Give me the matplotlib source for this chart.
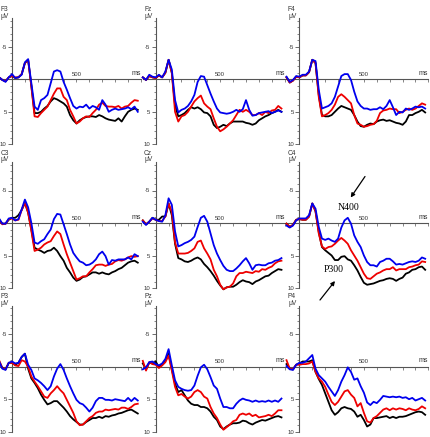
import numpy as np
import matplotlib.pyplot as plt

plt.rcParams['font.family'] = ['Liberation Sans', 'DejaVu Sans']

# sample times (ms), -100 .. 975 every 25 ms
times = np.arange(-100, 1000, 25)

# ---- amplitudes (uV) ----
f3_blue = [-0.3, 0.1, 0.4, -0.3, -0.8, -0.2, -0.3, -0.7, -2.6, -3.1, 0.6, 4.2, 4.7, 3.2, 2.9, 2.4, 0.6, -1.2, -1.4, -1.2, 0.4, 1.6, 2.9, 4.1, 4.5, 4.2, 4.3, 3.9, 4.5, 4.1, 4.3, 4.7, 3.2, 3.9, 5.0, 4.7, 4.5, 4.7, 4.6, 4.5, 4.3, 4.6, 4.2, 5.0]
f3_red = [-0.3, 0.1, 0.3, -0.3, -0.5, -0.3, -0.3, -0.8, -2.5, -3.0, 1.1, 5.7, 5.8, 5.2, 4.7, 4.2, 3.2, 2.2, 1.4, 1.4, 2.7, 3.2, 4.7, 5.7, 6.8, 6.5, 6.0, 5.7, 5.8, 5.2, 4.7, 3.9, 3.6, 4.1, 4.2, 4.2, 4.3, 4.1, 4.5, 4.2, 4.1, 3.6, 3.2, 3.3]
f3_black = [-0.3, 0.1, 0.3, -0.3, -0.5, -0.2, -0.3, -0.8, -2.5, -3.0, 1.0, 5.2, 5.2, 5.0, 4.5, 4.1, 3.4, 2.9, 3.1, 3.4, 3.7, 4.2, 5.5, 6.3, 6.8, 6.3, 6.0, 5.8, 5.7, 5.7, 5.8, 5.5, 5.7, 6.0, 6.2, 6.3, 6.4, 6.0, 6.5, 5.7, 5.0, 4.7, 4.5, 4.7]

fz_blue = [-0.3, 0.1, -0.7, -0.4, -0.3, -0.7, -0.3, -1.2, -3.0, -1.5, 3.2, 5.1, 4.7, 4.5, 4.1, 3.4, 2.4, 0.4, -0.5, -0.4, 0.9, 2.2, 3.4, 4.5, 5.1, 5.2, 5.3, 5.2, 5.0, 4.7, 5.0, 4.6, 3.2, 4.7, 5.6, 5.5, 5.2, 5.1, 5.0, 4.9, 5.2, 5.0, 4.8, 5.0]
fz_red = [-0.3, 0.1, -0.5, -0.3, -0.2, -0.6, -0.3, -1.0, -3.0, -1.0, 5.0, 6.5, 5.7, 5.5, 5.0, 4.2, 3.4, 2.9, 2.5, 3.7, 4.2, 4.6, 6.0, 7.3, 8.0, 7.7, 7.3, 6.8, 6.3, 5.5, 4.7, 5.0, 4.7, 5.0, 5.5, 5.5, 5.2, 5.5, 5.0, 5.2, 4.8, 4.7, 4.1, 4.5]
fz_black = [-0.3, 0.1, -0.5, -0.3, -0.2, -0.6, -0.3, -1.0, -3.0, -1.0, 4.0, 5.7, 5.5, 5.2, 4.7, 4.3, 4.5, 4.3, 4.6, 5.1, 5.2, 5.7, 7.0, 7.5, 7.3, 7.0, 7.2, 6.8, 6.5, 6.5, 6.5, 6.5, 6.7, 6.8, 7.0, 6.8, 6.3, 6.0, 5.7, 5.5, 5.2, 5.0, 4.7, 5.0]

f4_blue = [-0.4, 0.4, 0.1, -0.5, -0.4, -0.7, -0.7, -1.2, -3.0, -2.8, 1.6, 4.5, 4.3, 4.1, 3.7, 2.7, 1.1, -0.5, -0.8, -0.8, 0.1, 1.9, 3.4, 4.1, 4.5, 4.5, 4.7, 4.6, 4.6, 4.3, 4.6, 4.1, 3.2, 4.3, 5.5, 5.0, 5.1, 4.5, 4.7, 4.5, 4.2, 4.3, 4.2, 4.5]
f4_red = [-0.3, 0.5, 0.2, -0.4, -0.3, -0.6, -0.6, -1.1, -3.0, -2.5, 2.7, 5.7, 5.5, 5.2, 4.7, 3.9, 2.7, 2.3, 2.7, 3.2, 3.7, 5.5, 6.8, 7.0, 7.3, 7.2, 7.0, 6.9, 6.4, 5.2, 4.8, 4.7, 4.5, 4.6, 4.6, 5.2, 5.0, 4.7, 4.5, 4.7, 4.5, 4.1, 3.7, 3.9]
f4_black = [-0.3, 0.5, 0.2, -0.4, -0.3, -0.6, -0.6, -1.1, -3.0, -2.5, 2.4, 5.5, 5.7, 5.7, 5.5, 5.0, 4.5, 4.1, 4.3, 4.5, 4.7, 5.5, 6.5, 7.2, 7.3, 7.0, 6.8, 6.9, 6.5, 6.3, 6.2, 6.4, 6.3, 6.5, 6.7, 6.8, 7.0, 6.5, 5.5, 5.5, 5.2, 5.0, 4.7, 5.1]

c3_blue = [-0.7, 0.1, 0.1, -0.7, -0.8, -0.4, -0.6, -2.1, -3.6, -2.4, 0.0, 3.0, 3.2, 2.8, 2.5, 1.7, 1.0, -0.6, -1.4, -1.3, 0.2, 1.7, 3.3, 4.6, 5.3, 5.9, 6.1, 6.5, 6.4, 6.1, 5.6, 4.8, 4.4, 5.1, 6.4, 5.7, 5.8, 5.6, 5.6, 5.6, 5.3, 5.6, 4.8, 5.1]
c3_red = [-0.5, 0.2, 0.1, -0.6, -0.7, -0.4, -0.5, -2.0, -3.1, -1.6, 1.2, 4.3, 4.1, 3.8, 3.3, 3.0, 2.8, 2.0, 1.3, 1.7, 3.3, 4.8, 6.1, 7.4, 8.7, 8.5, 8.2, 8.2, 7.6, 7.1, 6.5, 6.4, 6.4, 6.6, 6.4, 6.3, 5.9, 5.7, 5.8, 5.6, 5.3, 5.1, 5.2, 5.1]
c3_black = [-0.5, 0.1, 0.1, -0.5, -0.8, -0.8, -1.2, -2.0, -3.1, -1.6, 1.0, 3.8, 4.1, 4.3, 4.6, 4.3, 4.2, 3.8, 4.3, 5.1, 5.8, 6.9, 7.6, 8.4, 8.9, 8.7, 8.3, 8.2, 7.9, 7.6, 7.6, 7.8, 7.6, 7.8, 7.9, 7.6, 7.4, 7.1, 6.9, 6.5, 6.1, 5.9, 5.8, 6.1]

cz_blue = [-0.2, 0.3, -0.2, -0.8, -0.5, -0.3, -0.2, -1.2, -3.8, -2.8, 1.3, 3.6, 3.4, 3.1, 2.9, 2.6, 2.1, 0.6, -0.8, -1.1, -0.2, 1.6, 3.4, 4.7, 5.7, 6.6, 7.2, 7.4, 7.4, 7.0, 6.5, 5.9, 5.4, 6.2, 7.2, 6.5, 6.4, 6.5, 6.5, 6.2, 6.1, 5.8, 5.7, 5.4]
cz_red = [-0.4, 0.2, -0.2, -0.7, -0.5, -0.3, -0.3, -1.0, -3.0, -1.7, 3.0, 4.7, 4.7, 4.7, 4.6, 4.3, 3.9, 2.9, 2.7, 3.9, 4.7, 5.6, 7.2, 8.2, 9.5, 10.2, 9.9, 9.8, 9.3, 8.2, 7.7, 7.7, 7.5, 7.6, 7.7, 7.4, 7.5, 7.1, 7.2, 6.9, 6.7, 6.2, 5.9, 5.8]
cz_black = [-0.4, 0.2, -0.2, -0.8, -0.5, -0.5, -1.0, -1.0, -3.0, -1.2, 3.2, 5.4, 5.6, 5.9, 6.0, 5.8, 5.5, 5.3, 5.6, 6.3, 6.8, 7.4, 8.1, 8.9, 9.6, 10.2, 9.9, 9.8, 9.8, 9.5, 9.1, 8.8, 9.0, 9.1, 9.4, 9.0, 8.8, 8.5, 8.2, 8.1, 7.7, 7.4, 7.1, 7.2]

c4_blue = [0.4, 0.7, 0.4, -0.4, -0.7, -0.7, -0.7, -1.2, -3.0, -2.2, 0.6, 2.4, 2.6, 2.4, 2.7, 2.9, 2.4, 0.7, -0.4, -0.8, 0.1, 1.9, 2.9, 3.7, 5.0, 6.0, 6.5, 6.5, 6.7, 6.0, 5.8, 5.5, 5.5, 5.9, 6.4, 6.3, 6.4, 6.2, 6.0, 5.9, 6.0, 5.8, 5.3, 5.5]
c4_red = [0.1, 0.6, 0.3, -0.5, -0.6, -0.5, -0.5, -1.0, -3.0, -1.8, 1.6, 3.6, 4.0, 3.7, 3.6, 3.2, 2.7, 2.3, 2.7, 3.2, 4.2, 5.0, 5.8, 6.8, 7.8, 8.5, 8.6, 8.2, 7.8, 7.6, 7.3, 7.1, 7.1, 6.8, 7.3, 7.1, 7.1, 7.1, 6.8, 6.7, 6.5, 6.4, 5.9, 6.0]
c4_black = [0.1, 0.6, 0.3, -0.5, -0.6, -0.5, -0.5, -1.0, -3.0, -1.8, 1.4, 3.7, 4.2, 4.6, 5.0, 5.7, 5.7, 5.2, 5.1, 5.6, 5.8, 6.5, 7.3, 8.3, 9.2, 9.5, 9.4, 9.3, 9.1, 8.9, 8.8, 8.6, 8.5, 8.6, 8.9, 8.6, 8.4, 7.8, 7.6, 7.2, 7.1, 6.8, 6.7, 7.2]

p3_blue = [-0.8, 0.3, 0.5, -0.6, -0.8, -0.5, -0.6, -1.5, -2.0, -0.3, 0.5, 1.8, 2.1, 2.5, 3.0, 3.6, 3.0, 1.5, 0.3, -0.4, 0.5, 1.8, 3.0, 4.1, 5.1, 5.6, 5.8, 6.3, 6.9, 6.3, 5.3, 4.8, 4.8, 5.1, 5.1, 5.2, 5.0, 5.1, 5.2, 5.3, 4.8, 5.3, 4.8, 5.2]
p3_red = [-1.0, 0.2, 0.4, -0.6, -0.6, -0.2, -0.1, -1.0, -0.8, 0.0, 1.5, 2.3, 3.0, 3.8, 4.6, 4.8, 4.1, 3.6, 3.0, 3.6, 4.1, 5.1, 6.1, 7.1, 8.4, 9.0, 8.9, 8.4, 7.9, 7.6, 7.1, 6.9, 6.9, 6.6, 6.7, 6.6, 6.5, 6.6, 6.3, 6.3, 6.5, 6.2, 5.8, 5.7]
p3_black = [-0.8, 0.2, 0.4, -0.6, -0.6, -0.3, -0.6, -1.5, -2.0, 0.3, 1.8, 2.5, 3.3, 4.3, 5.1, 5.8, 5.6, 5.3, 5.3, 5.8, 6.3, 6.9, 7.6, 8.1, 8.5, 8.9, 8.9, 8.5, 8.2, 7.9, 7.9, 7.7, 7.9, 7.6, 7.7, 7.5, 7.4, 7.2, 7.1, 6.9, 6.7, 6.6, 6.9, 7.2]

pz_blue = [0.4, 0.1, -0.7, -0.8, -0.4, -0.2, -0.5, -1.2, -2.7, -0.2, 2.1, 3.1, 3.4, 3.6, 3.7, 3.6, 2.9, 1.4, 0.1, -0.3, 0.4, 1.6, 2.9, 3.4, 4.9, 6.2, 6.2, 6.4, 6.4, 5.7, 5.2, 4.9, 5.1, 5.2, 5.4, 5.2, 5.4, 5.3, 5.4, 5.2, 5.4, 5.2, 5.4, 4.9]
pz_red = [-0.9, 0.6, -0.7, -0.4, -0.3, 0.2, -0.2, -0.7, -1.7, 0.6, 3.1, 4.4, 4.2, 4.6, 4.9, 4.6, 3.9, 3.6, 3.9, 4.6, 4.9, 6.2, 7.2, 7.9, 8.9, 9.7, 9.3, 8.9, 8.4, 8.2, 7.4, 7.2, 7.4, 7.2, 7.6, 7.4, 7.8, 7.7, 7.6, 7.4, 7.6, 7.2, 6.7, 6.7]
pz_black = [-0.5, 0.4, -0.6, -0.5, -0.8, 0.1, -0.3, -1.0, -2.0, 0.4, 2.6, 3.9, 3.6, 4.4, 5.2, 5.7, 5.9, 5.9, 6.2, 6.2, 6.4, 6.9, 7.7, 8.2, 9.2, 9.6, 9.2, 8.9, 8.7, 8.7, 8.6, 8.3, 8.4, 8.7, 8.9, 8.6, 8.4, 8.2, 8.3, 8.1, 7.9, 7.7, 7.6, 7.8]

p4_blue = [-0.1, 0.4, 0.5, -0.3, -0.6, -0.6, -0.8, -1.3, -1.8, 0.3, 1.3, 1.8, 2.3, 3.1, 3.8, 4.5, 3.6, 2.3, 1.3, 0.1, 0.8, 2.0, 1.8, 3.0, 4.0, 5.5, 5.9, 5.4, 5.6, 5.1, 4.5, 4.6, 4.7, 4.6, 4.7, 4.6, 4.8, 4.7, 5.0, 4.8, 5.2, 5.0, 4.8, 5.2]
p4_red = [-1.0, 0.3, 0.4, -0.3, -0.3, -0.4, -0.4, -0.5, -0.8, 0.8, 1.8, 2.3, 3.1, 4.3, 5.4, 5.9, 5.4, 4.6, 3.8, 3.6, 4.3, 4.8, 6.1, 5.6, 7.1, 8.4, 8.6, 7.9, 7.6, 7.1, 6.6, 6.4, 6.7, 6.4, 6.6, 6.4, 6.5, 6.7, 6.4, 6.6, 6.7, 6.5, 6.1, 6.4]
p4_black = [-0.4, 0.3, 0.4, -0.3, -0.5, -0.8, -0.8, -0.8, -1.0, 0.8, 1.9, 2.8, 4.1, 5.4, 6.7, 7.4, 7.0, 6.4, 6.2, 6.4, 6.5, 6.9, 7.7, 7.4, 8.2, 9.2, 8.9, 7.9, 7.9, 7.8, 7.7, 7.6, 7.9, 7.7, 7.9, 7.7, 7.7, 7.6, 7.4, 7.2, 7.0, 6.9, 7.0, 7.4]

electrodes = ['F3', 'Fz', 'F4', 'C3', 'Cz', 'C4', 'P3', 'Pz', 'P4']
panels = [(f3_black, f3_red, f3_blue), (fz_black, fz_red, fz_blue), (f4_black, f4_red, f4_blue),
          (c3_black, c3_red, c3_blue), (cz_black, cz_red, cz_blue), (c4_black, c4_red, c4_blue),
          (p3_black, p3_red, p3_blue), (pz_black, pz_red, pz_blue), (p4_black, p4_red, p4_blue)]
colors = ['black', '#ee0000', '#0000ee']

W, H = 431, 437
fig = plt.figure(figsize=(W / 100, H / 100), dpi=100)

sx = 0.129   # px per ms
sy = 6.5     # px per uV
xlo, xhi = -110, 1010
ylo, yhi = -10.4, 10.8
axcol = '#555555'

for i, name in enumerate(electrodes):
	r, c = divmod(i, 3)
	x0 = 12 + 143.7 * c        # pixel of t = 0
	z0 = 79.3 + 143.7 * r      # pixel (from top) of 0 uV
	left = x0 + xlo * sx
	width = (xhi - xlo) * sx
	bottom = H - (z0 + yhi * sy)
	height = (yhi - ylo) * sy
	ax = fig.add_axes([left / W, bottom / H, width / W, height / H])
	ax.patch.set_alpha(0)

	for vals, col in zip(panels[i], colors):
		ax.plot(times, vals, color=col, lw=1.3, clip_on=False)

	ax.set_xlim(xlo, xhi)
	ax.set_ylim(yhi, ylo)

	for s in ['top', 'right']:
		ax.spines[s].set_visible(False)
	ax.spines['left'].set_position(('data', 0))
	ax.spines['bottom'].set_position(('data', 0))
	ax.spines['left'].set_bounds(-9.4, 10)
	ax.spines['bottom'].set_bounds(-100, 1000)
	for s in ['left', 'bottom']:
		ax.spines[s].set_color(axcol)
		ax.spines[s].set_linewidth(0.8)
		ax.spines[s].set_zorder(0.5)

	ax.set_yticks([-5, 5, 10])
	ax.set_yticklabels(['-5', '5', '10'])
	ax.set_yticks(list(range(-9, 11)), minor=True)
	ax.set_xticks(list(range(100, 1001, 100)))
	ax.set_xticklabels([])
	ax.tick_params(axis='y', which='major', direction='out', length=3, width=0.6,
	               labelsize=4.3, pad=0.8, colors=axcol, labelcolor='#333333')
	ax.tick_params(axis='y', which='minor', direction='out', length=1.6, width=0.5, colors=axcol)
	ax.tick_params(axis='x', which='major', direction='out', length=1.8, width=0.5,
	               colors=axcol, labelbottom=False)

	ax.text(500, -0.35, '500', ha='center', va='bottom', fontsize=4.3, color='#333333')
	ax.text(1000, -0.35, 'ms', ha='right', va='bottom', fontsize=5, color='#333333')
	ax.text(-90, -10.75, name, ha='left', va='center', fontsize=4.8, color='#333333')
	ax.text(-86, -9.7, 'μV', ha='left', va='center', fontsize=4.8, color='#333333')

# component labels in the C4 panel
fig.text(349 / W, 1 - 208 / H, 'N400', family='Liberation Serif', fontsize=7,
         ha='center', va='center')
fig.text(334 / W, 1 - 269 / H, 'P300', family='Liberation Serif', fontsize=7,
         ha='center', va='center')
arrow = dict(arrowstyle='-|>', color='black', lw=0.9, mutation_scale=6, shrinkA=0, shrinkB=0)
fig.axes[5].annotate('', xy=(350.7, H - 197.5), xytext=(365, H - 176.5),
                     xycoords='figure pixels', textcoords='figure pixels', arrowprops=arrow)
fig.axes[5].annotate('', xy=(335, H - 281), xytext=(320, H - 300),
                     xycoords='figure pixels', textcoords='figure pixels', arrowprops=arrow)

fig.savefig('out.png', dpi=100)
